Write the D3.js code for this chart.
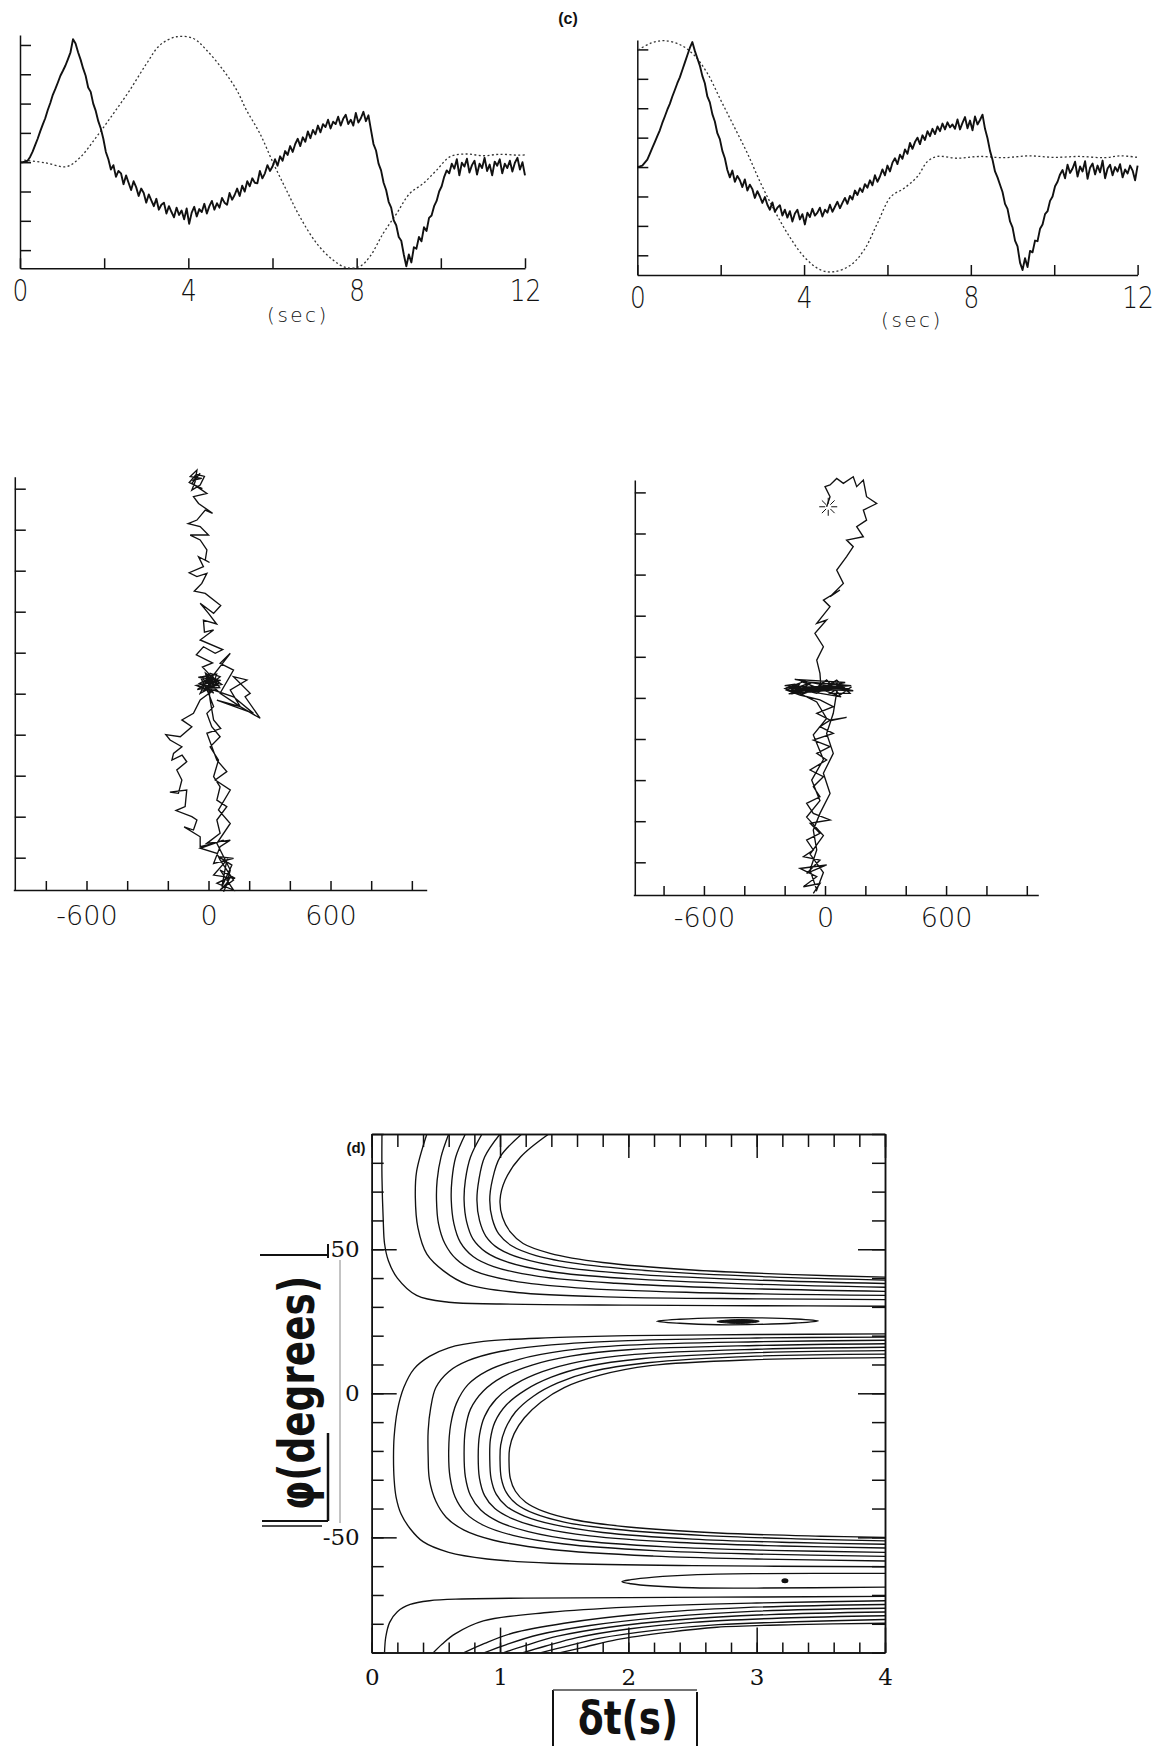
<!DOCTYPE html>
<html><head><meta charset="utf-8">
<script src="https://cdn.jsdelivr.net/npm/d3@7"></script>
<style>
body{margin:0;background:#fff;}
svg{display:block;}
.ax path,.ax line{stroke:#111;stroke-width:1.5;fill:none;}
</style></head><body>
<script>
// ---------- (c) particle traces: two records, 0-12 s ----------
const sampleStep = 0.06;                 // seconds between samples of the solid traces
const secTicks = [0, 2, 4, 6, 8, 10, 12];
const secLabels = [0, 4, 8, 12];
const ampTicks = [0, 1, 2, 3, 4, 5, 6, 7];

const solidA = [
3.00,3.00,3.02,3.05,3.18,3.36,3.58,3.80,4.05,4.28,
4.50,4.78,5.02,5.30,5.50,5.72,5.95,6.12,6.30,6.52,
6.75,7.20,7.05,6.75,6.50,6.20,5.95,5.55,5.40,5.00,
4.75,4.40,4.15,3.80,3.35,3.10,2.75,2.90,2.50,2.70,
2.62,2.25,2.55,2.30,2.05,2.35,2.15,1.85,2.10,1.95,
1.62,1.90,1.70,1.50,1.75,1.38,1.55,1.62,1.25,1.50,
1.30,1.12,1.45,1.20,1.35,1.05,1.42,0.90,1.28,1.48,
1.15,1.40,1.30,1.58,1.25,1.50,1.68,1.38,1.60,1.45,
1.78,1.62,1.55,1.95,1.72,1.88,2.10,1.85,2.20,2.00,
2.35,2.18,2.45,2.30,2.28,2.70,2.45,2.62,2.90,2.70,
2.85,3.10,2.88,3.20,3.05,3.38,3.25,3.55,3.35,3.62,
3.80,3.55,3.85,3.70,4.05,3.82,4.10,3.95,4.25,4.02,
4.30,4.20,4.45,4.15,4.38,4.30,4.55,4.25,4.48,4.62,
4.30,4.45,4.25,4.68,4.35,4.50,4.72,4.40,4.60,4.10,
3.62,3.40,2.95,2.72,2.30,2.05,1.65,1.45,1.02,0.85,
0.45,0.32,-0.15,-0.55,-0.15,-0.42,0.10,0.05,0.45,0.30,
0.78,0.65,1.10,1.18,1.50,1.68,2.00,2.18,2.50,2.72,
2.62,2.95,2.78,3.10,2.55,2.98,2.85,3.12,2.65,2.90,
3.05,2.58,2.95,2.80,3.15,2.70,2.92,2.55,3.02,2.88,
3.10,2.62,2.95,2.80,3.05,2.68,2.98,3.15,2.75,3.00,
2.55];

const solidB = [
3.00,3.02,3.05,3.15,3.25,3.45,3.65,3.85,4.05,4.25,
4.50,4.72,4.95,5.15,5.40,5.62,5.85,6.05,6.30,6.55,
6.80,7.05,7.25,6.95,6.70,6.45,6.10,5.85,5.40,5.20,
4.80,4.55,4.15,3.95,3.55,3.30,2.90,2.65,2.88,2.50,
2.70,2.55,2.32,2.58,2.20,2.40,2.25,1.95,2.18,2.00,
1.78,1.98,1.72,1.55,1.80,1.48,1.62,1.70,1.35,1.55,
1.28,1.50,1.15,1.42,1.55,1.22,1.40,1.05,1.45,1.30,
1.58,1.35,1.45,1.62,1.32,1.55,1.45,1.72,1.48,1.65,
1.82,1.60,1.78,1.95,1.75,2.02,1.90,2.20,2.05,2.28,
2.15,2.42,2.30,2.55,2.38,2.72,2.50,2.68,2.92,2.72,
3.05,2.85,3.15,3.30,3.10,3.42,3.28,3.60,3.45,3.82,
3.62,3.85,4.00,3.78,4.08,3.92,4.22,4.05,4.30,4.12,
4.38,4.22,4.48,4.28,4.52,4.35,4.45,4.30,4.62,4.28,
4.50,4.70,4.32,4.58,4.25,4.72,4.45,4.60,4.78,4.30,
3.98,3.55,3.25,2.85,2.65,2.40,2.15,1.75,1.58,1.15,
0.95,0.50,0.30,-0.25,-0.50,-0.10,-0.40,0.15,0.10,0.50,
0.48,0.90,1.05,1.40,1.50,1.85,2.00,2.35,2.50,2.75,
2.90,2.62,3.08,2.80,2.95,3.18,2.68,3.02,2.85,3.20,
2.60,2.98,3.12,2.75,3.05,2.82,3.22,2.62,2.95,3.08,
2.72,3.00,2.85,3.10,2.65,2.92,2.78,3.05,2.88,2.55,
3.05];

// dotted traces: [time (s), amplitude]
const dottedA = [
[0.1,3.07],[0.6,2.98],[1.11,2.85],[1.42,3.15],[1.82,3.87],[2.22,4.66],[2.61,5.46],[3.01,6.37],
[3.33,7.0],[3.72,7.28],[4.12,7.22],[4.43,6.83],[4.83,6.14],[5.15,5.46],[5.38,4.78],[5.7,3.98],
[6.02,2.96],[6.33,2.05],[6.65,1.14],[7.05,0.23],[7.44,-0.34],[7.76,-0.6],[8.08,-0.55],[8.31,-0.23],
[8.63,0.57],[8.95,1.25],[9.26,1.93],[9.58,2.27],[9.9,2.73],[10.22,3.19],[10.61,3.28],[11.0,3.22],
[11.4,3.27],[11.84,3.24],[12.0,3.25]];
const dottedB = [
[0.02,6.98],[0.32,7.21],[0.64,7.3],[1.04,7.15],[1.36,6.81],[1.68,6.19],[2.0,5.28],[2.32,4.38],
[2.64,3.47],[2.96,2.45],[3.28,1.55],[3.6,0.75],[4.0,-0.05],[4.4,-0.5],[4.72,-0.56],[5.12,-0.33],
[5.44,0.18],[5.76,1.09],[6.08,1.99],[6.4,2.28],[6.72,2.68],[6.96,3.19],[7.2,3.36],[7.68,3.3],
[8.2,3.36],[8.8,3.32],[9.4,3.38],[10.0,3.33],[10.6,3.36],[11.2,3.32],[11.6,3.38],[12.0,3.33]];

// ---------- particle paths in the plane ----------
const posTicks = [-800, -600, -400, -200, 0, 200, 400, 600, 800, 1000];
const posLabels = [-600, 0, 600];
const heightTicks = [200, 400, 600, 800, 1000, 1200, 1400, 1600, 1800, 2000];

const pathA = [
[74,34],[107,107],[41,75],[123,42],[57,140],[131,99],[25,115],[90,189],[66,59],[115,164],[49,205],[123,197],[25,172],
[57,254],[107,286],[-8,270],[57,319],[41,384],[90,449],[41,481],[57,546],[25,595],[49,676],[8,741],[57,790],[16,839],[-8,904],[25,937],[0,1002],
[-41,1083],[41,1018],[-25,1018],[57,1083],[8,1099],[-41,1002],[49,1050],[-8,1067],[25,1002],[-21,1047],[38,1075],
[-30,1060],[45,1040],[-10,1090],[30,1030],[-45,1050],[20,1085],[55,1030],[-20,1025],
[-60,1040],[60,1065],[-50,1080],[40,1095],[10,1010],[-15,1100],[65,1045],[-55,1020],[0,1060],
[107,1197],[57,1148],[123,1115],
[57,1002],[156,937],[107,1018],[189,1067],[123,1083],[205,1002],[180,985],[254,880],[156,937],[41,969],[221,904],[123,985],[25,1018],
[-41,969],[-74,904],[-131,872],[-82,839],[-139,790],[-210,800],[-189,774],[-131,741],[-172,709],[-180,676],[-130,700],[-107,668],[-156,628],[-131,579],
[-148,514],[-190,520],[-107,530],[-115,449],[-160,430],[-82,400],[-57,384],[-74,335],[-120,350],[-41,302],[-41,254],[25,270],[74,286],[-41,246],[41,221],[57,189],
[123,91],[57,42],[90,75],
[107,140],[41,270],[107,367],[49,433],[107,530],[33,579],[90,620],[41,676],[-8,807],[60,830],[25,872],[8,969],[0,1034],
[0,1099],[-30,1130],[20,1150],[-8,1164],[-60,1190],[-25,1229],[33,1197],[70,1215],[-41,1262],[25,1311],[-20,1300],[-25,1359],[40,1340],
[0,1392],[-41,1441],[25,1392],[60,1430],[-16,1489],[-70,1500],[-33,1538],[-8,1587],[-57,1571],[-95,1590],[-25,1620],[-49,1668],[5,1640],
[-16,1652],[-8,1701],[-41,1750],[-90,1774],[0,1774],[-41,1815],[-100,1830],[-57,1847],[-16,1896],[20,1880],[-49,1928],[-74,1961],[-8,1977],
[-57,2010],[-82,2026],[-41,2075],[-74,2042],[-33,2050],[-90,2059],[-57,2091],[-66,2034],[-82,1993],[-41,2018],[-20,2060],[-60,2070],[-95,2030],[-30,2000]];

const pathB = [
[-58,49],[-25,97],[-107,81],[-41,130],[-124,170],[8,187],[-91,146],[-25,211],[-107,227],[-58,260],
[-91,308],[-25,341],[-74,390],[25,406],[-58,438],[-91,487],[-25,519],[-58,568],[-8,617],[-74,649],[8,698],[-41,730],[25,763],
[-58,795],[41,827],[-25,860],[25,892],[107,905],[30,890],[-41,925],[41,957],[-25,990],
[-124,1014],[-190,1038],[-124,1071],[-157,1022],[-91,1054],[-173,1054],[-41,1022],[41,1071],[107,1038],[132,1054],[74,1014],
[8,1087],[-58,1038],[-124,1014],[-198,1046],[-107,1079],[-25,1038],[58,1087],[124,1022],[25,1022],[91,1063],[-91,1030],[-149,1067],
[-200,1060],[120,1045],[-180,1020],[100,1075],[-150,1090],[140,1035],[-190,1050],[80,1005],[-120,1080],[130,1060],[-170,1035],[60,1040],
[41,925],[8,827],[41,730],[-8,633],[25,535],[-25,438],[-58,357],[-41,260],[-74,162],[-41,65],
[-8,150],[-74,240],[-8,330],[-91,420],[-25,500],[-66,600],[-8,700],[-58,820],[8,900],[-41,980],
[-165,1042],[-66,1075],[-140,1030],[10,1060],[-100,1050],[90,1045],[115,1030],[60,1070],[-20,1050],
[-25,1119],[-41,1184],[-8,1249],[-50,1314],[8,1379],[-41,1363],[25,1444],[-8,1476],[74,1525],[25,1492],[91,1557],[58,1622],
[107,1687],[140,1736],[107,1768],[190,1784],[157,1833],[206,1865],[190,1914],[256,1946],[206,1979],[190,2060],[157,2028],
[140,2076],[91,2044],[58,2068],[25,2036],[0,2028],[25,1979],[8,1930]];
const pathBStart = [16, 1930];

// ---------- (d) misfit contours over delay time and fast direction ----------
const dtMinor = [0,0.2,0.4,0.6,0.8,1,1.2,1.4,1.6,1.8,2,2.2,2.4,2.6,2.8,3,3.2,3.4,3.6,3.8,4];
const dtMajor = [0, 1, 2, 3, 4];
const phiMinor = [-90,-80,-70,-60,-50,-40,-30,-20,-10,0,10,20,30,40,50,60,70,80,90];
const phiMajor = [-50, 0, 50];

// each contour: [delay (s), angle (deg)]
const upperContours = [
[[0.08,90],[0.08,75],[0.09,60],[0.1,52],[0.13,46],[0.2,40],[0.35,34],[0.6,31.6],[1.0,31.0],[2.0,30.6],[3.0,30.4],[4.0,30.2]],
[[0.43,90],[0.35,77],[0.34,68],[0.36,57.5],[0.43,48.3],[0.56,42.5],[0.74,37.9],[1.13,35],[1.9,33.4],[3.0,32.8],[4.0,32.5]],
[[0.6,90],[0.54,82],[0.51,74],[0.505,67],[0.52,59],[0.57,52],[0.66,46.5],[0.8,42.5],[1.1,39],[1.6,36.6],[2.5,35],[4.0,34]],
[[0.73,90],[0.655,82],[0.625,74],[0.62,67],[0.64,59],[0.69,52.5],[0.79,47.5],[0.95,44],[1.3,40.6],[1.9,38.2],[2.8,36.5],[4.0,35.4]],
[[0.86,90],[0.77,82],[0.73,74],[0.72,67],[0.74,59.5],[0.79,53.5],[0.89,49],[1.06,45.5],[1.4,42.2],[2.0,39.8],[2.9,38],[4.0,36.8]],
[[1.0,90],[0.88,82],[0.835,74],[0.82,67],[0.84,60],[0.89,54.5],[0.99,50.2],[1.17,46.8],[1.5,43.7],[2.1,41.2],[3.0,39.3],[4.0,38.1]],
[[1.17,90],[1.0,82],[0.94,74],[0.92,67],[0.94,60.5],[0.99,55.3],[1.09,51.2],[1.28,47.8],[1.62,44.9],[2.2,42.4],[3.1,40.4],[4.0,39.3]],
[[1.38,90],[1.16,82],[1.04,74],[1.0,67],[1.02,61],[1.08,56],[1.18,52],[1.39,48.6],[1.8,45.4],[2.5,42.8],[3.3,41.2],[4.0,40.3]]];

const upperIsland = [[2.22,25.0],[2.4,25.7],[2.7,26.2],[3.0,26.2],[3.3,25.8],[3.48,25.1],[3.3,24.4],[3.0,23.9],[2.7,23.8],[2.4,24.3]];
const upperCore = [[2.69,24.9],[2.8,25.5],[2.95,25.5],[3.02,25.0],[2.95,24.4],[2.8,24.3]];

const middleContours = [
[[4.0,20.6],[3.0,20.4],[2.0,20.0],[1.4,19.3],[0.87,18.0],[0.6,15.8],[0.45,12.8],[0.33,8.5],[0.25,2],[0.2,-6],[0.175,-15],[0.17,-22],[0.175,-30],[0.19,-36],[0.23,-42],[0.3,-47],[0.4,-51.5],[0.6,-55.2],[0.9,-57.5],[1.4,-59],[2.5,-59.8],[4.0,-60.2]],
[[4.0,19.5],[3.0,19.2],[2.0,18.3],[1.4,16.8],[1.0,14.5],[0.75,11.3],[0.6,7.5],[0.5,2],[0.46,-5],[0.44,-13],[0.44,-22],[0.45,-30],[0.5,-37.5],[0.58,-43],[0.72,-47.5],[0.95,-51],[1.4,-54.2],[2.2,-56.5],[3.0,-57.5],[4.0,-58.2]],
[[4.0,18.4],[3.0,17.9],[2.0,16.7],[1.5,14.8],[1.15,11.8],[0.9,7.8],[0.75,3],[0.66,-3.5],[0.615,-11],[0.6,-20],[0.61,-29],[0.65,-36],[0.73,-41.5],[0.87,-45.8],[1.1,-49.3],[1.5,-52.3],[2.2,-54.6],[3.0,-55.8],[4.0,-56.6]],
[[4.0,17.2],[3.0,16.6],[2.0,15.1],[1.55,12.9],[1.25,9.8],[1.02,5.7],[0.87,0.8],[0.77,-5.5],[0.73,-12.5],[0.72,-21],[0.73,-29],[0.77,-35.5],[0.85,-40.5],[0.99,-44.6],[1.22,-48],[1.6,-51],[2.3,-53.3],[3.1,-54.5],[4.0,-55.2]],
[[4.0,16],[3.0,15.3],[2.05,13.5],[1.62,11],[1.33,7.5],[1.12,3.2],[0.97,-2],[0.88,-8],[0.84,-14.5],[0.83,-22],[0.84,-29.5],[0.88,-35.5],[0.96,-40],[1.1,-43.6],[1.33,-46.8],[1.7,-49.5],[2.4,-51.8],[3.2,-53],[4.0,-53.7]],
[[4.0,14.8],[3.0,14.1],[2.1,12],[1.68,9.3],[1.4,5.6],[1.2,1.2],[1.05,-4],[0.96,-10],[0.925,-16],[0.92,-22.5],[0.93,-29.5],[0.97,-35],[1.05,-39.2],[1.19,-42.6],[1.42,-45.6],[1.8,-48.3],[2.5,-50.6],[3.3,-51.8],[4.0,-52.4]],
[[4.0,13.6],[3.0,12.9],[2.15,10.6],[1.72,7.6],[1.45,3.6],[1.26,-1],[1.12,-6.5],[1.04,-12.5],[1.005,-18],[1.0,-23],[1.01,-29.5],[1.05,-34.5],[1.13,-38.5],[1.27,-41.8],[1.5,-44.7],[1.9,-47.2],[2.6,-49.4],[3.4,-50.6],[4.0,-51.2]],
[[4.0,12.4],[3.0,11.7],[2.17,9.6],[1.78,6.3],[1.5,2],[1.32,-3],[1.19,-8.5],[1.11,-14],[1.075,-19],[1.07,-23.5],[1.08,-29.5],[1.12,-34],[1.2,-37.8],[1.34,-41],[1.58,-43.9],[2.0,-46.4],[2.7,-48.5],[3.5,-49.6],[4.0,-50.0]]];

const lowerTongue = [[4.0,-62.5],[3.0,-62.6],[2.5,-63.0],[2.2,-63.8],[2.02,-64.7],[1.95,-65.4],[2.02,-66.1],[2.2,-66.9],[2.5,-67.5],[3.0,-67.6],[4.0,-67.3]];
const lowerMinimum = [3.22, -65.1];

const lowerContours = [
[[0.1,-90],[0.11,-84.5],[0.14,-79.5],[0.2,-75.8],[0.3,-73.3],[0.45,-72],[0.7,-71.4],[1.2,-71.1],[2.0,-70.9],[3.0,-70.7],[4.0,-70.5]],
[[0.48,-90],[0.55,-87],[0.65,-83.5],[0.87,-79],[1.39,-76],[2.0,-74.2],[3.0,-72.8],[4.0,-72]],
[[0.72,-90],[0.88,-86.8],[1.1,-83.2],[1.5,-79.8],[2.1,-76.6],[2.9,-74.4],[4.0,-73.3]],
[[0.88,-90],[1.05,-87.2],[1.3,-83.8],[1.7,-80.6],[2.3,-77.6],[3.0,-75.6],[4.0,-74.6]],
[[1.03,-90],[1.2,-87.5],[1.45,-84.3],[1.85,-81.2],[2.4,-78.6],[3.1,-76.8],[4.0,-75.9]],
[[1.18,-90],[1.35,-87.8],[1.6,-84.8],[2.0,-81.8],[2.5,-79.5],[3.2,-78],[4.0,-77.2]],
[[1.32,-90],[1.5,-88],[1.78,-85],[2.2,-82.3],[2.7,-80.3],[3.3,-79.3],[4.0,-78.5]],
[[1.47,-90],[1.65,-88.2],[1.91,-85.5],[2.3,-83],[2.69,-81.2],[3.3,-80.3],[4.0,-79.8]]];

// ======================================================================
const svg = d3.select("body").append("svg").attr("width", 1164).attr("height", 1746);
const INK = "#111";
const thinFont = '"DejaVu Sans", sans-serif';

svg.append("text").attr("x", 568).attr("y", 24).attr("text-anchor", "middle")
  .style("font-family", '"Liberation Sans", Arial, sans-serif').style("font-size", "16px")
  .style("font-weight", "bold").attr("fill", INK).text("(c)");

function tracePanel(o) {
  const x = d3.scaleLinear().domain([0, 12]).range([o.left, o.right]);
  const y = d3.scaleLinear().domain(o.yDomain).range([o.bottom, o.top]);
  const g = svg.append("g");

  const xa = g.append("g").attr("class", "ax").attr("transform", `translate(0,${o.bottom})`)
    .call(d3.axisBottom(x).tickValues(secTicks).tickSize(-10).tickSizeOuter(0).tickPadding(11)
      .tickFormat(d => secLabels.includes(d) ? String(d) : ""));
  xa.selectAll("text").style("font-family", thinFont).style("font-weight", 200)
    .style("font-size", "31px").attr("fill", INK).attr("transform", "scale(0.8,1)");

  g.append("g").attr("class", "ax").attr("transform", `translate(${o.left},0)`)
    .call(d3.axisLeft(y).tickValues(ampTicks).tickSize(-11).tickSizeOuter(0).tickFormat(""));

  g.append("text").attr("x", o.secX).attr("y", o.secY).attr("text-anchor", "middle")
    .style("font-family", thinFont).style("font-weight", 200).style("font-size", "20px")
    .style("letter-spacing", "2.5px").attr("fill", INK).text("(sec)");

  g.append("path").datum(o.dotted)
    .attr("d", d3.line().x(d => x(d[0])).y(d => y(d[1])).curve(d3.curveCatmullRom.alpha(0.5)))
    .attr("fill", "none").attr("stroke", "#333").attr("stroke-width", 1.3)
    .attr("stroke-dasharray", "2,2.4");

  g.append("path").datum(o.solid)
    .attr("d", d3.line().x((d, i) => x(i * sampleStep)).y(d => y(d)))
    .attr("fill", "none").attr("stroke", INK).attr("stroke-width", 1.9)
    .attr("stroke-linejoin", "round");
}

tracePanel({left: 20, right: 525, top: 35, bottom: 268.3, yDomain: [-0.62, 7.34],
  solid: solidA, dotted: dottedA, secX: 298, secY: 322});
tracePanel({left: 637.3, right: 1137.6, top: 40, bottom: 275, yDomain: [-0.67, 7.32],
  solid: solidB, dotted: dottedB, secX: 912, secY: 327});

function pathPanel(o) {
  const x = d3.scaleLinear().domain(o.xDomain).range([o.left, o.right]);
  const y = d3.scaleLinear().domain(o.yDomain).range([o.bottom, o.top]);
  const g = svg.append("g");
  const xa = g.append("g").attr("class", "ax").attr("transform", `translate(0,${o.bottom})`)
    .call(d3.axisBottom(x).tickValues(posTicks).tickSize(-9).tickSizeOuter(0).tickPadding(o.pad)
      .tickFormat(d => posLabels.includes(d) ? String(d) : ""));
  xa.selectAll("text").style("font-family", thinFont).style("font-weight", 200)
    .style("font-size", "27px").attr("fill", INK);
  g.append("g").attr("class", "ax").attr("transform", `translate(${x(o.xDomain[0]) + 1.5},0)`)
    .call(d3.axisLeft(y).tickValues(heightTicks).tickSize(-11).tickSizeOuter(0).tickFormat(""));
  g.append("path").datum(o.path)
    .attr("d", d3.line().x(d => x(d[0])).y(d => y(d[1])))
    .attr("fill", "none").attr("stroke", INK).attr("stroke-width", 1.35).attr("stroke-linejoin", "miter");
  if (o.start) {
    const cx = x(o.start[0]), cy = y(o.start[1]);
    const rays = [0, 45, 90, 135, 180, 225, 270, 315];
    g.selectAll("line.star").data(rays).join("line").attr("class", "star")
      .attr("x1", a => cx + 3 * Math.cos(a * Math.PI / 180)).attr("y1", a => cy + 3 * Math.sin(a * Math.PI / 180))
      .attr("x2", a => cx + 9 * Math.cos(a * Math.PI / 180)).attr("y2", a => cy + 9 * Math.sin(a * Math.PI / 180))
      .attr("stroke", INK).attr("stroke-width", 1);
  }
}

pathPanel({left: 13.3, right: 426.7, top: 476.7, bottom: 890, xDomain: [-960, 1073],
  yDomain: [42.4, 2058.5], path: pathA, pad: 15.5});
pathPanel({left: 633.3, right: 1038.3, top: 480, bottom: 895, xDomain: [-950, 1057],
  yDomain: [40.9, 2060.3], path: pathB, pad: 12.5, start: pathBStart});

// ---------- (d) ----------
const cL = 371.7, cR = 885, cT = 1134, cB = 1652.6;
const dx = d3.scaleLinear().domain([0, 4]).range([cL, cR]);
const dy = d3.scaleLinear().domain([-90, 90]).range([cB, cT]);
const dg = svg.append("g");
const serif = '"DejaVu Serif", serif';

svg.append("defs").append("clipPath").attr("id", "frame")
  .append("rect").attr("x", cL).attr("y", cT).attr("width", cR - cL).attr("height", cB - cT);

const cg = dg.append("g").attr("clip-path", "url(#frame)");
const cline = d3.line().x(d => dx(d[0])).y(d => dy(d[1])).curve(d3.curveCatmullRom.alpha(0.5));
const allOpen = [...upperContours, ...middleContours, lowerTongue, ...lowerContours];
cg.selectAll("path.c").data(allOpen).join("path").attr("class", "c")
  .attr("d", cline).attr("fill", "none").attr("stroke", INK).attr("stroke-width", 1.35);
cg.append("path").datum(upperIsland)
  .attr("d", d3.line().x(d => dx(d[0])).y(d => dy(d[1])).curve(d3.curveCatmullRomClosed.alpha(0.5)))
  .attr("fill", "none").attr("stroke", INK).attr("stroke-width", 1.35);
cg.append("path").datum(upperCore)
  .attr("d", d3.line().x(d => dx(d[0])).y(d => dy(d[1])).curve(d3.curveCatmullRomClosed.alpha(0.5)))
  .attr("fill", INK).attr("stroke", INK).attr("stroke-width", 1);
cg.append("ellipse").attr("cx", dx(lowerMinimum[0])).attr("cy", dy(lowerMinimum[1]))
  .attr("rx", 3.5).attr("ry", 2.5).attr("fill", INK);

// frame ticks: minor and major on every side
function ax(gen, tr) { return dg.append("g").attr("class", "ax").attr("transform", tr).call(gen); }
ax(d3.axisLeft(dy).tickValues(phiMinor).tickSize(-12).tickSizeOuter(0).tickFormat(""), `translate(${cL},0)`);
const yl = ax(d3.axisLeft(dy).tickValues(phiMajor).tickSize(-25).tickSizeOuter(0).tickPadding(12)
  .tickFormat(d => String(d).replace("\u2212", "-")), `translate(${cL},0)`);
yl.selectAll("text").style("font-family", serif).style("font-size", "23px").attr("fill", INK);
ax(d3.axisRight(dy).tickValues(phiMinor).tickSize(-13).tickSizeOuter(0).tickFormat(""), `translate(${cR},0)`);
ax(d3.axisRight(dy).tickValues(phiMajor).tickSize(-27).tickSizeOuter(0).tickFormat(""), `translate(${cR},0)`);
ax(d3.axisTop(dx).tickValues(dtMinor).tickSize(-13).tickSizeOuter(0).tickFormat(""), `translate(0,${cT})`);
ax(d3.axisTop(dx).tickValues(dtMajor).tickSize(-24).tickSizeOuter(0).tickFormat(""), `translate(0,${cT})`);
ax(d3.axisBottom(dx).tickValues(dtMinor).tickSize(-10).tickSizeOuter(0).tickFormat(""), `translate(0,${cB})`);
const xl = ax(d3.axisBottom(dx).tickValues(dtMajor).tickSize(-25).tickSizeOuter(0).tickPadding(16)
  .tickFormat(d => String(d)), `translate(0,${cB})`);
xl.selectAll("text").style("font-family", serif).style("font-size", "23px").attr("fill", INK);

dg.append("text").attr("x", 356).attr("y", 1153).attr("text-anchor", "middle")
  .style("font-family", '"Liberation Sans", Arial, sans-serif').style("font-weight", "bold")
  .style("font-size", "15px").attr("fill", INK).text("(d)");

// axis titles with their pasted-label outlines
const bold = '"DejaVu Sans", sans-serif';
dg.append("text").attr("transform", "translate(314,1393) rotate(-90)").attr("text-anchor", "middle")
  .style("font-family", bold).style("font-weight", "bold").style("font-size", "50px")
  .attr("textLength", 234).attr("lengthAdjust", "spacingAndGlyphs").attr("fill", INK).text("\u03c6(degrees)");
dg.append("text").attr("x", 628).attr("y", 1734).attr("text-anchor", "middle")
  .style("font-family", bold).style("font-weight", "bold").style("font-size", "46px")
  .attr("textLength", 100).attr("lengthAdjust", "spacingAndGlyphs").attr("fill", INK).text("\u03b4t(s)");

const rule = (x1, y1, x2, y2, w, c) => dg.append("line").attr("x1", x1).attr("y1", y1)
  .attr("x2", x2).attr("y2", y2).attr("stroke", c || INK).attr("stroke-width", w);
rule(340, 1260, 340, 1523, 1, "#888");
rule(260, 1255, 328, 1255, 2);
rule(328, 1244, 328, 1258, 2);
rule(328, 1433, 328, 1521, 2.5);
rule(262, 1521, 328, 1521, 2);
rule(262, 1526, 322, 1526, 1.5);
rule(553, 1690, 553, 1746, 2);
rule(697, 1692, 697, 1746, 2);
rule(553, 1690, 697, 1690, 1.5, "#444");
</script></body></html>
